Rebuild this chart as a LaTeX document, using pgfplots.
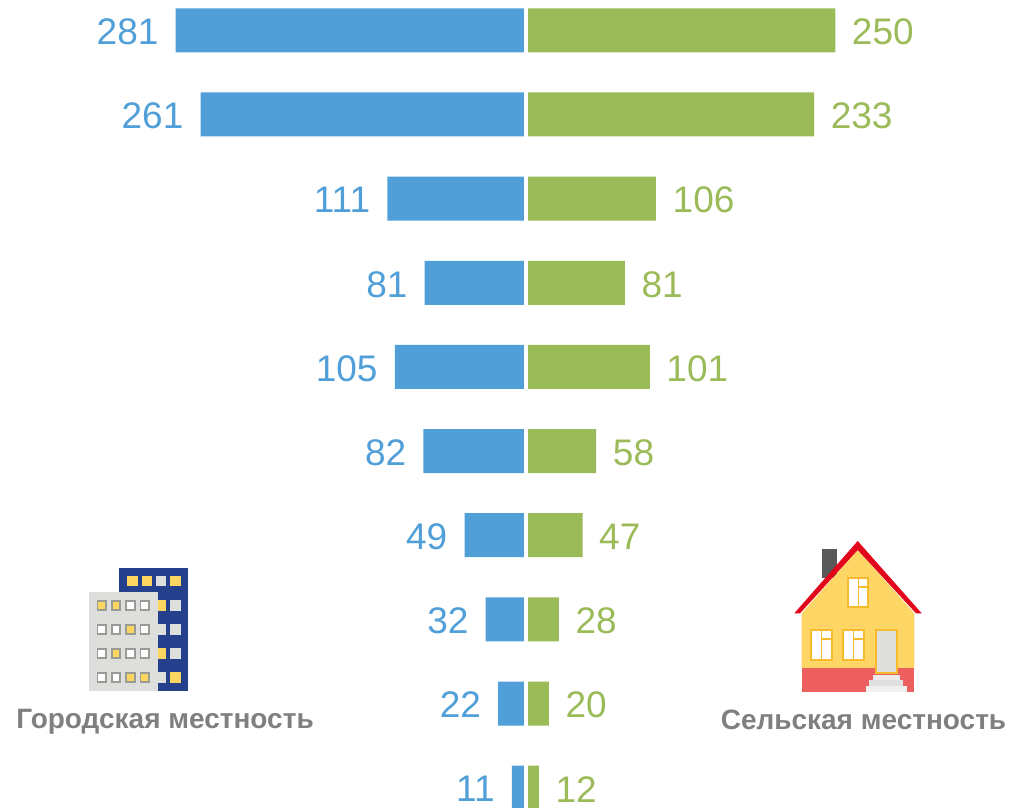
\documentclass[border=0pt]{standalone}
\usepackage{fontspec}
\setmainfont{Liberation Sans}
\usepackage{pgfplots}
\pgfplotsset{compat=1.18}
\definecolor{cblue}{HTML}{519FD8}
\definecolor{cgreen}{HTML}{9BBB59}
\definecolor{ctext}{HTML}{7F7F7F}
\definecolor{navy}{HTML}{243F8C}
\definecolor{bgrey}{HTML}{DEDEDC}
\definecolor{wframe}{HTML}{9A9A96}
\definecolor{wyel}{HTML}{FDD662}
\definecolor{hyel}{HTML}{FDD666}
\definecolor{hred}{HTML}{EE5F60}
\definecolor{roof}{HTML}{E2061C}
\definecolor{frame}{HTML}{F6BB2C}
\pgfplotsset{
  twoside/.style={
    scale only axis, axis lines=none, ticks=none,
    height=807pt, y dir=reverse, ymin=-0.360, ymax=9.230,
    xbar, bar shift=0pt, bar width=44pt,
    point meta=x,
    nodes near coords={\pgfmathprintnumber[assume math mode=true,precision=0]{\pgfplotspointmeta}},
  }
}
\begin{document}
\begin{tikzpicture}[x=1pt,y=-1pt]
\useasboundingbox (0,0) rectangle (1010,807);
\begin{axis}[twoside, at={(0pt,0pt)}, anchor=north west, width=524pt,
    x dir=reverse, xmin=1.21, xmax=422.1,
    nodes near coords style={anchor=east, inner sep=0pt, xshift=-17pt, yshift=-1.5pt, text=cblue, font=\fontsize{37}{40}\selectfont}]
\addplot[fill=cblue, draw=none] coordinates {(281,0) (261,1) (111,2) (81,3) (105,4) (82,5) (49,6) (32,7) (22,8) (11,9)};
\end{axis}
\begin{axis}[twoside, at={(528pt,0pt)}, anchor=north west, width=482pt,
    xmin=3.2, xmax=390.35,
    nodes near coords style={anchor=west, inner sep=0pt, xshift=16.5pt, yshift=-1.5pt, text=cgreen, font=\fontsize{37}{40}\selectfont}]
\addplot[fill=cgreen, draw=none] coordinates {(250,0) (233,1) (106,2) (81,3) (101,4) (58,5) (47,6) (28,7) (20,8) (12,9)};
\end{axis}
% building icon
\fill[navy] (119.3,568.3) rectangle (188.3,691);
\foreach \xa/\c in {127.3/wyel,141.7/wyel,156/bgrey,170.3/wyel}
  \fill[\c] (\xa,576) rectangle ++(10.4,10.3);
\foreach \ya/\ca/\cb in {600/wyel/bgrey,624/bgrey/bgrey,648/wyel/bgrey,672/bgrey/wyel}{
  \fill[\ca] (156,\ya) rectangle ++(10.4,11);
  \fill[\cb] (170.3,\ya) rectangle ++(10.4,11);
}
\fill[bgrey] (89.3,592.3) rectangle (158,691);
\foreach \ya/\ca/\cb/\cc/\cd in {600/wyel/wyel/white/white,624/white/white/wyel/white,648/white/wyel/white/white,672/white/white/wyel/wyel}{
  \filldraw[fill=\ca,draw=wframe,line width=1.8pt] (97.4,\ya.7) rectangle ++(8.6,9.6);
  \filldraw[fill=\cb,draw=wframe,line width=1.8pt] (111.7,\ya.7) rectangle ++(8.6,9.6);
  \filldraw[fill=\cc,draw=wframe,line width=1.8pt] (126,\ya.7) rectangle ++(8.6,9.6);
  \filldraw[fill=\cd,draw=wframe,line width=1.8pt] (140.4,\ya.7) rectangle ++(8.6,9.6);
}
% house icon
\fill[black!65] (822.3,549.3) rectangle (836.7,578);
\fill[hyel] (801.7,613.3) -- (857.7,550) -- (914.3,613.3) -- (914.3,668.3) -- (801.7,668.3) -- cycle;
\fill[hred] (801.7,668.3) rectangle (914.3,691.7);
\fill[roof] (794.3,613.3) -- (857.7,541) -- (921.7,613.3) -- (916,613.3) -- (857.7,550) -- (800,613.3) -- cycle;
\foreach \xa/\ya/\w/\h in {848.3/578.3/20/29,811/630/20.7/30,843.3/630/20.7/30}{
  \filldraw[fill=white,draw=frame,line width=2pt] (\xa,\ya) rectangle ++(\w,\h);
  \draw[frame,line width=1.6pt] ({\xa+0.5*\w},\ya) -- ++(0,\h);
  \draw[frame,line width=1.6pt] ({\xa+0.5*\w},{\ya+0.3*\h}) -- ++(0.5*\w,0);
}
\filldraw[fill=bgrey,draw=frame,line width=1.8pt] (876,630) -- (896.7,630) -- (896.7,673.3) -- (876,673.3) -- cycle;
\fill[black!8] (872.7,675) rectangle (900,680);
\fill[black!12] (869.3,680) rectangle (903.3,686);
\fill[black!6] (866,686) rectangle (906.7,691.7);
% captions
\node[text=ctext,inner sep=0pt,font=\bfseries\fontsize{28}{32}\selectfont] at (165,721.5) {Городская местность};
\node[text=ctext,inner sep=0pt,font=\bfseries\fontsize{28}{32}\selectfont] at (863.5,719.5) {Сельская местность};
\end{tikzpicture}
\end{document}
